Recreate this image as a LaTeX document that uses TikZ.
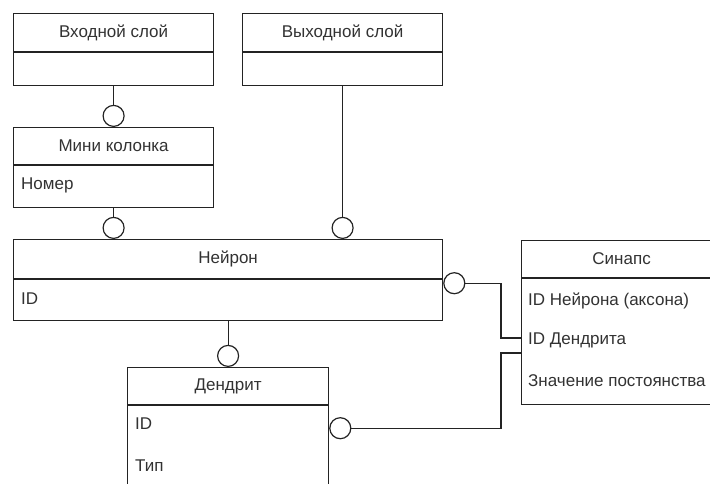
\documentclass[tikz,border=0pt]{standalone}
\usepackage{fontspec}
\setmainfont{Liberation Sans}
\usetikzlibrary{positioning}
\definecolor{erline}{RGB}{35,35,35}
\definecolor{ertext}{RGB}{50,50,50}
\newcommand{\erfont}{\fontsize{17}{20}\selectfont}

\begin{document}
\begin{tikzpicture}[x=1pt, y=-1pt,
    head/.style={draw=erline, line width=1.2pt, minimum width=200pt, minimum height=38pt, anchor=north west, inner sep=0pt, font=\erfont, text=ertext},
    body/.style={draw=erline, line width=1.2pt, minimum width=200pt, anchor=north west, inner sep=0pt},
    field/.style={anchor=base west, inner sep=0pt, font=\erfont, text=ertext},
    conn/.style={draw=erline, line width=1.2pt},
    opt/.style={circle, draw=erline, fill=white, line width=1.2pt, minimum size=21pt, inner sep=0pt}
]
    \clip (0,0) rectangle (710,483);

    % Entities
    \node[head] (inp) at (13,13) {Входной слой};
    \node[body, minimum height=33pt] (inp-b) at (inp.south west) {};

    \node[head] (out) at (242,13) {Выходной слой};
    \node[body, minimum height=33pt] (out-b) at (out.south west) {};

    \node[head, minimum height=37pt] (mini) at (13,127) {Мини колонка};
    \node[body, minimum height=42pt] (mini-b) at (mini.south west) {};
    \node[field] (mini-f1) at (21,189) {Номер};

    \node[head, minimum width=429pt, minimum height=39pt] (neu) at (13,239) {Нейрон};
    \node[body, minimum width=429pt, minimum height=41pt] (neu-b) at (neu.south west) {};
    \node[field] (neu-f1) at (21,304) {ID};

    \node[head, minimum height=37pt] (syn) at (521,240) {Синапс};
    \node[body, minimum height=126pt] (syn-b) at (syn.south west) {};
    \node[field] (syn-f1) at (528,305) {ID Нейрона (аксона)};
    \node[field] (syn-f2) at (528,344) {ID Дендрита};
    \node[field] (syn-f3) at (528,386) {Значение постоянства};

    \node[head, minimum width=201pt, minimum height=37pt] (den) at (127,367) {Дендрит};
    \node[body, minimum width=201pt, minimum height=100pt] (den-b) at (den.south west) {};
    \node[field] (den-f1) at (135,429) {ID};
    \node[field] (den-f2) at (135,471) {Тип};

    % Optional ends
    \node[opt, above=0pt of mini] (c1) {};
    \node[opt, anchor=south] (c2) at (mini-b.south |- neu.north) {};
    \node[opt, anchor=south] (c3) at (out-b.south |- neu.north) {};
    \node[opt, anchor=west] (c4) at ([yshift=-4pt]neu-b.north east) {};
    \node[opt, above=0pt of den] (c5) {};
    \node[opt, anchor=west] (c6) at ([yshift=-23pt]den-b.north east) {};

    % Links
    \coordinate (jn1) at (501,338);
    \coordinate (jn2) at (501,353);
    \draw[conn] (inp-b) -- (c1);
    \draw[conn] (mini-b) -- (c2);
    \draw[conn] (out-b) -- (c3);
    \draw[conn] (neu-b) -- (c5);
    \draw[conn] (c4) -| (jn1) -- (syn-b.west |- jn1);
    \draw[conn] (c6) -| (jn2) -- (syn-b.west |- jn2);
\end{tikzpicture}
\end{document}
